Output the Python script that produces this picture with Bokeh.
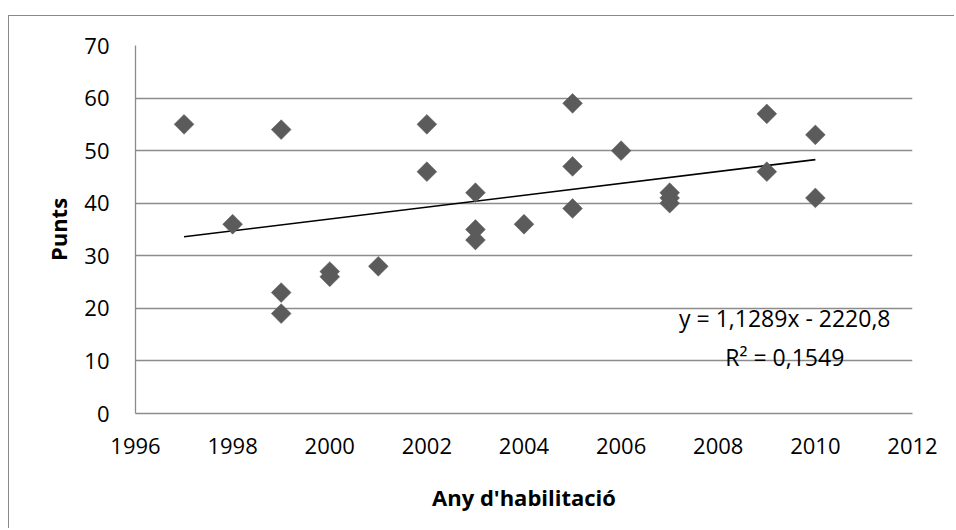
import math
from bokeh.plotting import figure
from bokeh.models import Range1d, FixedTicker, Label
from bokeh.embed import file_html
from bokeh.resources import INLINE

# data
years = [1997, 1998, 1999, 1999, 1999, 2000, 2000, 2001, 2002, 2002,
         2003, 2003, 2003, 2004, 2005, 2005, 2005, 2006, 2007, 2007, 2007,
         2009, 2009, 2010, 2010]
punts = [55, 36, 54, 23, 19, 27, 26, 28, 55, 46,
         42, 35, 33, 36, 59, 47, 39, 50, 42, 41, 40,
         57, 46, 53, 41]
x_ticks = [1996, 1998, 2000, 2002, 2004, 2006, 2008, 2010, 2012]
y_ticks = [0, 10, 20, 30, 40, 50, 60, 70]
slope = 1.1289
intercept = -2220.8
eq_text = "y = 1,1289x - 2220,8"
r2_text = "R² = 0,1549"

FONT = "Open Sans"
GRID = "#8c8c8c"

p = figure(width=946, height=513, output_backend="svg", toolbar_location=None,
           x_range=Range1d(1996, 2012), y_range=Range1d(0, 70),
           min_border_left=126, min_border_right=43, min_border_top=29,
           min_border_bottom=116)
p.styles = {"border-top": "1.5px solid #8a8a8a", "border-left": "1.5px solid #8a8a8a",
            "margin-top": "15px", "margin-left": "8px"}
p.outline_line_color = None
p.background_fill_color = "white"
p.border_fill_color = "white"

# grid
p.xgrid.grid_line_color = None
p.ygrid.grid_line_color = GRID
p.ygrid.grid_line_width = 1.3
p.ygrid.ticker = FixedTicker(ticks=y_ticks)

for ax in (p.xaxis[0], p.yaxis[0]):
    ax.axis_line_color = GRID
    ax.axis_line_width = 1.3
    ax.major_tick_line_color = None
    ax.minor_tick_line_color = None
    ax.major_tick_in = 0
    ax.major_tick_out = 0
    ax.major_label_text_font = FONT
    ax.major_label_text_font_size = "22px"
    ax.major_label_text_color = "black"
    ax.axis_label_text_font = FONT
    ax.axis_label_text_font_size = "22px"
    ax.axis_label_text_font_style = "bold"
    ax.axis_label_text_color = "black"

p.xaxis.ticker = FixedTicker(ticks=x_ticks)
p.yaxis.ticker = FixedTicker(ticks=y_ticks)
p.xaxis.axis_label = "Any d'habilitació"
p.yaxis.axis_label = "Punts"
p.xaxis.major_label_standoff = 24
p.xaxis.axis_label_standoff = 25
p.yaxis.major_label_standoff = 26
p.yaxis.axis_label_standoff = 8

# trend line from the displayed equation
x0, x1 = min(years), max(years)
p.line([x0, x1], [slope * x0 + intercept, slope * x1 + intercept],
       line_color="black", line_width=1.6)

# points
p.scatter(years, punts, marker="square", size=14, angle=math.pi / 4,
          fill_color="#5b5b5b", line_color="#5b5b5b", line_width=0.5)

p.add_layout(Label(x=2009.37, y=18.1, text=eq_text, text_align="center",
                   text_baseline="alphabetic", text_font=FONT,
                   text_font_size="23px", text_color="black"))
p.add_layout(Label(x=2009.37, y=10.8, text=r2_text, text_align="center",
                   text_baseline="alphabetic", text_font=FONT,
                   text_font_size="23px", text_color="black"))

open("out.html", "w").write(file_html(p, INLINE))
